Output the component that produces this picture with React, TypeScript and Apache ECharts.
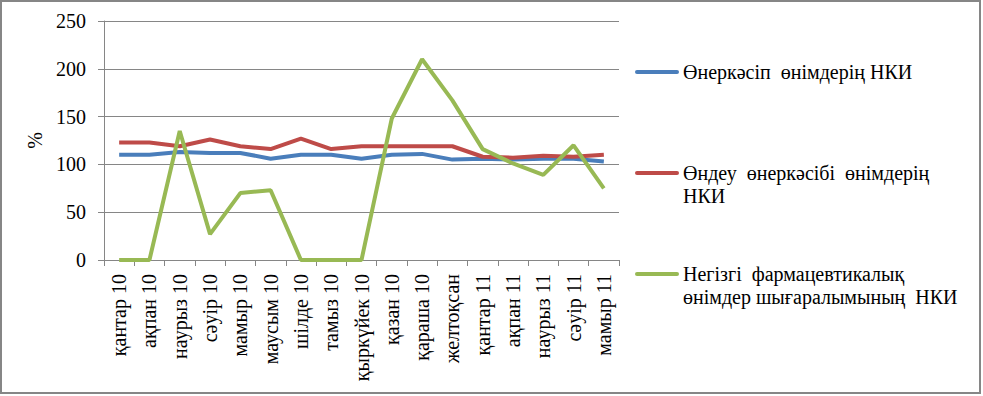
import React, { useEffect, useRef } from "react";
import * as echarts from "echarts";

const categories = [
  "қантар 10", "ақпан 10", "наурыз 10", "сәуір 10", "мамыр 10", "маусым 10",
  "шілде 10", "тамыз 10", "қыркүйек 10", "қазан 10", "қараша 10", "желтоқсан",
  "қантар 11", "ақпан 11", "наурыз 11", "сәуір 11", "мамыр 11",
];

const seriesNames = [
  "Өнеркәсіп  өнімдерің НКИ",
  "Өндеу  өнеркәсібі  өнімдерің\nНКИ",
  "Негізгі  фармацевтикалық\nөнімдер шығаралымының  НКИ",
];

const industry = [110, 110, 113, 112, 112, 106, 110, 110, 106, 110, 111, 105, 106, 105, 106, 106, 103];
const processing = [123, 123, 119, 126, 119, 116, 127, 116, 119, 119, 119, 119, 108, 107, 109, 108, 110];
const pharma = [0, 0, 135, 27, 70, 73, 0, 0, 0, 148, 210, 167, 116, 101, 89, 120, 75];

const colors = ["#4A7EBB", "#BE4B48", "#98B954"];
const FONT = "Liberation Serif";
const FS = 20;

export default function App() {
  const ref = useRef<HTMLDivElement>(null);
  useEffect(() => {
    document.body.style.margin = "0";
    const chart = echarts.init(ref.current!, null, { renderer: "svg" });
    const seriesData = [industry, processing, pharma];
    const legendY = [72, 173, 274];
    const graphics: any[] = [
      {
        type: "rect",
        shape: { x: 1, y: 1, width: 979, height: 392 },
        style: { fill: "none", stroke: "#868686", lineWidth: 2 },
        silent: true,
      },
    ];
    seriesNames.forEach((n, i) => {
      graphics.push({
        type: "line",
        shape: { x1: 637, y1: legendY[i], x2: 677, y2: legendY[i] },
        style: { stroke: colors[i], lineWidth: 4, lineCap: "round" },
      });
      graphics.push({
        type: "text",
        x: 683,
        y: legendY[i] - 11.5,
        style: {
          text: n,
          fontSize: FS,
          fontFamily: FONT,
          fill: "#000",
          lineHeight: 23,
          verticalAlign: "top",
        },
      });
    });
    chart.setOption({
      animation: false,
      backgroundColor: "#fff",
      textStyle: { fontFamily: FONT },
      grid: { left: 104, right: 364, top: 21, bottom: 136 },
      xAxis: {
        type: "category",
        data: categories,
        boundaryGap: true,
        axisLine: { lineStyle: { color: "#868686", width: 1 } },
        axisTick: { show: true, length: 6, inside: false, alignWithLabel: false, lineStyle: { color: "#868686" } },
        axisLabel: { rotate: 90, interval: 0, margin: 14, fontSize: FS, color: "#000", fontFamily: FONT },
      },
      yAxis: {
        type: "value",
        min: 0,
        max: 250,
        interval: 50,
        name: "%",
        nameLocation: "middle",
        nameRotate: 90,
        nameGap: 57,
        nameTextStyle: { fontSize: FS, color: "#000", fontFamily: FONT },
        axisLine: { show: true, lineStyle: { color: "#868686" } },
        axisTick: { show: true, length: 6, lineStyle: { color: "#868686" } },
        axisLabel: { margin: 18, fontSize: FS, color: "#000", fontFamily: FONT },
        splitLine: { show: true, lineStyle: { color: "#868686", width: 1 } },
      },
      series: seriesData.map((d, i) => ({
        name: seriesNames[i],
        type: "line",
        data: d,
        symbol: "none",
        lineStyle: { color: colors[i], width: 4 },
        itemStyle: { color: colors[i] },
        z: 2 + i,
      })),
      graphic: graphics,
    });
    return () => chart.dispose();
  }, []);
  return <div ref={ref} style={{ width: 983, height: 396 }} />;
}
